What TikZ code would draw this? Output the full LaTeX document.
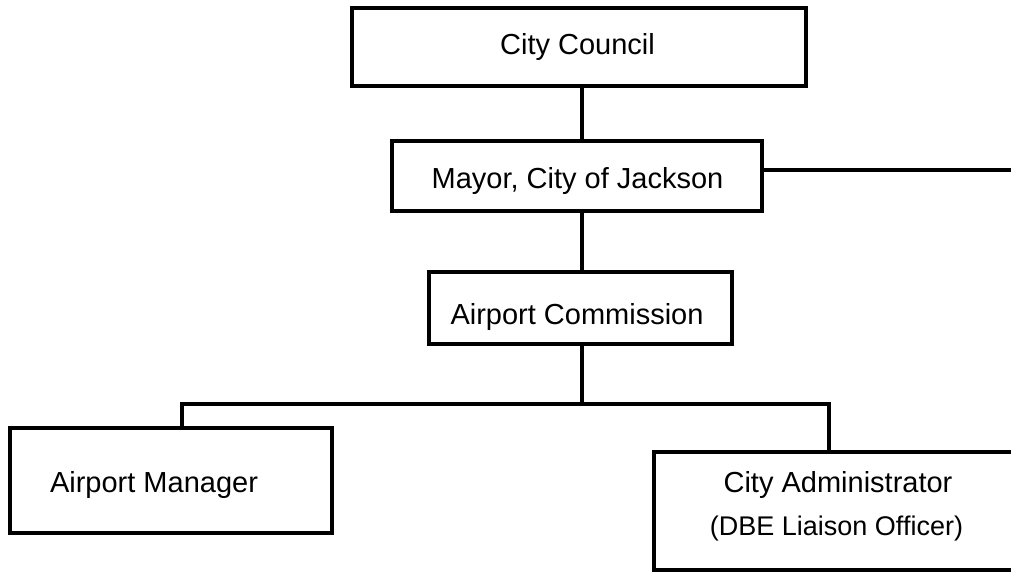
\documentclass[tikz,border=0pt]{standalone}
\usepackage{fontspec}
\setmainfont{Liberation Sans}
\usetikzlibrary{calc}
\begin{document}
\begin{tikzpicture}[x=1pt,y=-1pt,
  box/.style={draw=black, line width=4pt, inner sep=0pt, fill=white},
  conn/.style={draw=black, line width=4pt, line join=miter},
  txt/.style={font=\fontsize{29}{34}\selectfont, inner sep=0pt, anchor=base},
  smalltxt/.style={font=\fontsize{27}{32}\selectfont, inner sep=0pt, anchor=base}]
\clip (0,0) rectangle (1011,572);
\fill[white] (0,0) rectangle (1011,572);
% boxes
\node[box, minimum width=454pt, minimum height=78pt] (council) at (579,47) {};
\node[box, minimum width=370pt, minimum height=70pt] (mayor) at (577,176) {};
\node[box, minimum width=303pt, minimum height=72pt] (comm) at (580.5,308) {};
\node[box, minimum width=322pt, minimum height=105pt] (mgr) at (171,480.5) {};
\node[box, minimum width=368pt, minimum height=118pt] (admin) at (838,511) {};
% texts
\node[txt] (tcouncil) at ($(council.center)+(-1.5,7.5)$) {City Council};
\node[txt] (tmayor) at ($(mayor.center)+(0.5,13)$) {Mayor, City of Jackson};
\node[txt] (tcomm) at ($(comm.center)+(-3.5,16)$) {Airport Commission};
\node[txt] (tmgr) at ($(mgr.center)+(-17,11.5)$) {Airport Manager};
\node[txt] (tadmin) at ($(admin.center)+(0,-19)$) {City Administrator};
\node[smalltxt] (tdbe) at ($(admin.center)+(-1.5,24)$) {(DBE Liaison Officer)};
% connectors
\coordinate (spine) at (582,0);
\coordinate (mgrdrop) at (182,404);
\coordinate (admdrop) at (829,404);
\coordinate (rend) at (1015,170);
\draw[conn] (council.south -| spine) -- (mayor.north -| spine);
\draw[conn] (mayor.south -| spine) -- (comm.north -| spine);
\draw[conn] (comm.south -| spine) -- (mgrdrop -| spine);
\draw[conn] (mgr.north -| mgrdrop) -- (mgrdrop) -- (admdrop) -- (admin.north -| admdrop);
\draw[conn] (mayor.east |- rend) -- (rend);
\end{tikzpicture}
\end{document}
